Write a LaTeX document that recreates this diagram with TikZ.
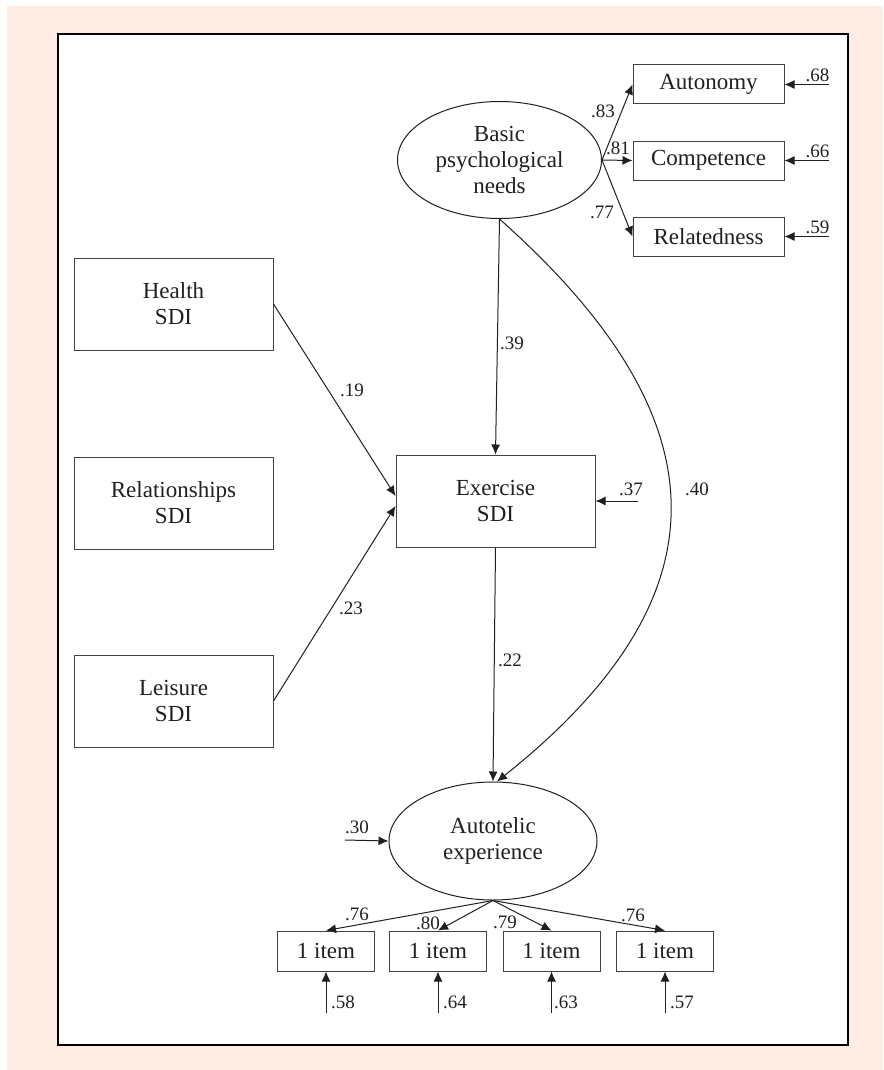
\documentclass[tikz,border=0pt]{standalone}
\usepackage{fontspec}
\setmainfont{Liberation Serif}
\usetikzlibrary{shapes.geometric,arrows.meta}
\definecolor{peach}{RGB}{253,236,227}
\definecolor{ink}{RGB}{35,31,32}

\begin{document}
\begin{tikzpicture}
      [x=.5pt,y=-.5pt
      ,obs/.style={draw=ink!85,line width=.5pt,minimum width=99.5pt,minimum height=46pt,inner sep=0pt,align=center,font=\fontsize{11.5}{13}\selectfont,text=ink}
      ,ind/.style={draw=ink!85,line width=.5pt,minimum width=75.5pt,minimum height=19.5pt,inner sep=0pt,font=\fontsize{11.5}{13}\selectfont,text=ink}
      ,item/.style={draw=ink!85,line width=.5pt,minimum width=48.5pt,minimum height=20pt,inner sep=0pt,font=\fontsize{11.5}{13}\selectfont,text=ink}
      ,lat/.style={draw=ink,ellipse,line width=.5pt,inner sep=0pt,align=center,font=\fontsize{11.5}{13}\selectfont,text=ink}
      ,arr/.style={draw=ink,line width=.5pt,-{Latex[length=5pt,width=4.5pt]}}
      ,lab/.style={font=\fontsize{9.5}{10}\selectfont,text=ink,inner sep=0pt}
      ]
        \useasboundingbox (0,0) rectangle (883,1070);
        \fill[peach] (7,6) rectangle (883,1070);
        \filldraw[fill=white,draw=black,line width=1pt] (58,34) rectangle (848,1045);

        \node[obs] (health) at (173.5,304) {Health\\SDI};
        \node[obs] (relation) at (173.5,503) {Relationships\\SDI};
        \node[obs] (leisure) at (173.5,701) {Leisure\\SDI};
        \node[obs] (exercise) at (495.5,501) {Exercise\\SDI};

        \node[lat,minimum width=102pt,minimum height=58.5pt] (needs) at (499.5,160) {Basic\\psychological\\needs};
        \node[lat,minimum width=104pt,minimum height=59pt] (auto) at (493,841) {Autotelic\\experience};

        \node[ind] (autonomy) at (708.5,84.5) {Autonomy};
        \node[ind] (competence) at (708.5,160.5) {Competence};
        \node[ind] (related) at (708.5,236.5) {Relatedness};

        \foreach \n/\x in {1/326,2/438,3/551.5,4/665}{
            \node[item] (it\n) at (\x,951) {1 item};
            \coordinate (ei\n) at (\x,1013);
            \draw[arr] (ei\n) -- (it\n.south);
            \draw[arr] (auto.south) -- (it\n.north);
        }
        \node[lab] (l58) at (343,1002) {.58};
        \node[lab] (l64) at (455,1002) {.64};
        \node[lab] (l63) at (566,1002) {.63};
        \node[lab] (l57) at (682,1002) {.57};
        \node[lab] (l76a) at (357,914) {.76};
        \node[lab] (l80) at (428,923) {.80};
        \node[lab] (l79) at (505,922) {.79};
        \node[lab] (l76b) at (633,915) {.76};

        \draw[arr] (needs.east) -- (autonomy.west);
        \draw[arr] (needs.east) -- (competence.west);
        \draw[arr] (needs.east) -- (related.west);
        \node[lab] (l83) at (603,111) {.83};
        \node[lab] (l81) at (618,148) {.81};
        \node[lab] (l77) at (602,212) {.77};

        \foreach \n/\t in {autonomy/.68,competence/.66,related/.59}{
            \coordinate (e\n) at ([xshift=22pt]\n.east);
            \draw[arr] (e\n) -- (\n.east);
            \node[lab,anchor=south] (l\n) at ([xshift=-5.5pt,yshift=1pt]e\n) {\t};
        }

        \draw[arr] (health.east) -- ([yshift=2.5pt]exercise.west);
        \draw[arr] (leisure.east) -- ([yshift=-2.5pt]exercise.west);
        \node[lab] (l19) at (352,390) {.19};
        \node[lab] (l23) at (351,608) {.23};

        \draw[arr] (needs.south) -- (exercise.north);
        \node[lab] (l39) at (512,343) {.39};
        \draw[arr] (exercise.south) -- (auto.north);
        \node[lab] (l22) at (510,660) {.22};
        \draw[arr] (needs.south) .. controls (720,415) and (735,592) .. ([xshift=2pt]auto.north);
        \node[lab] (l40) at (697,489) {.40};

        \coordinate (eex) at (638,501);
        \draw[arr] (eex) -- (exercise.east);
        \node[lab] (l37) at (631,489) {.37};
        \coordinate (eau) at (345,840);
        \draw[arr] (eau) -- (auto.west);
        \node[lab] (l30) at (357,827) {.30};

      \end{tikzpicture}
\end{document}
